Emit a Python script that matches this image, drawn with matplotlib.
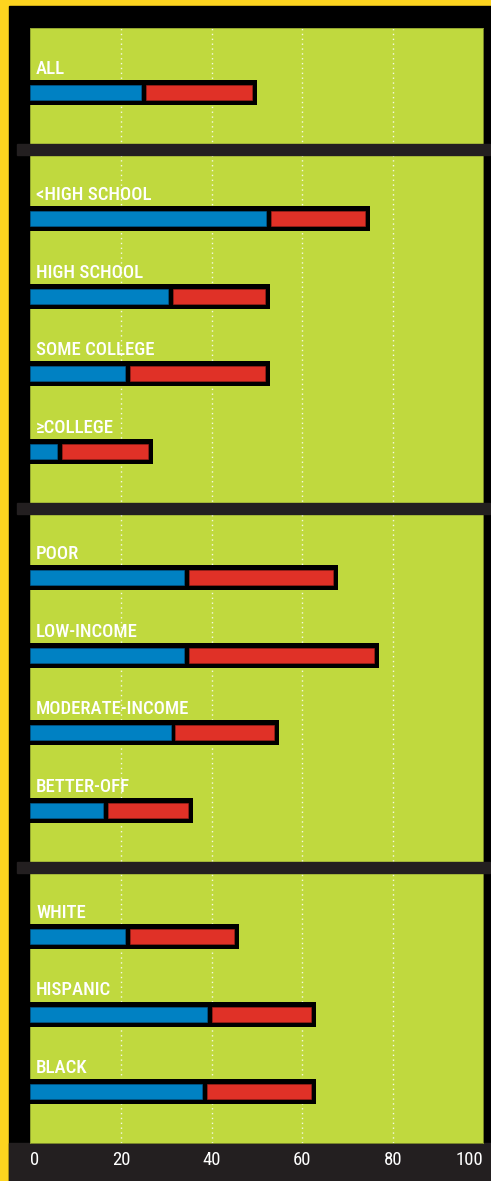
import matplotlib
matplotlib.use("Agg")
import matplotlib.pyplot as plt
import matplotlib.transforms as mtransforms
from matplotlib.patches import Rectangle

# data
categories = ["ALL",
              "<HIGH SCHOOL", "HIGH SCHOOL", "SOME COLLEGE", "\u2265COLLEGE",
              "POOR", "LOW-INCOME", "MODERATE-INCOME", "BETTER-OFF",
              "WHITE", "HISPANIC", "BLACK"]
groups = [0, 1, 1, 1, 1, 2, 2, 2, 2, 3, 3, 3]
blue_vals = [25, 52.5, 31, 21.5, 6.5, 34.5, 34.5, 31.5, 16.5, 21.5, 39.5, 38.5]
red_vals = [25, 22.5, 22, 31.5, 20.5, 33.5, 42.5, 23.5, 19.5, 24.5, 23.5, 24.5]
x_ticks = [0, 20, 40, 60, 80, 100]

YELLOW = "#fdd41f"
GREEN = "#c0d93e"
BLUE = "#0081c3"
RED = "#e03127"
DARK = "#231f20"
FONTS = ["Roboto Condensed", "Archivo Narrow", "PT Sans Narrow",
         "Barlow Condensed", "DejaVu Sans"]

W, H = 491, 1181
fig = plt.figure(figsize=(W / 100, H / 100), dpi=100, facecolor=YELLOW)

# black frame and dark bottom band
fig.patches.append(Rectangle((9 / W, 0), 1 - 9 / W, (H - 6) / H,
                             transform=fig.transFigure, color="black", zorder=-2))
fig.patches.append(Rectangle((9 / W, 0), 1 - 9 / W, 38 / H,
                             transform=fig.transFigure, color=DARK, zorder=-1))

ax = fig.add_axes([30.3 / W, 38 / H, 453 / W, (1143 - 28) / H])
ax.set_facecolor(GREEN)
for sp in ax.spines.values():
    sp.set_color("#8a9b2e")
    sp.set_linewidth(0.6)

gap = 0.632
pos = [i + g * gap for i, g in enumerate(groups)]

bar_h = 0.3226      # 25 px outline
fill_h = 0.194      # 15 px colour
div = 0.55          # half divider width in data units
end_pad = 1.1

for p, b, r, name in zip(pos, blue_vals, red_vals, categories):
    total = b + r
    ax.barh(p, total, height=bar_h, left=0, color="black", zorder=3)
    ax.barh(p, b - div, height=fill_h, left=0, color=BLUE,
            edgecolor="#00609a", linewidth=0.4, zorder=4)
    ax.barh(p, total - end_pad - (b + div), height=fill_h, left=b + div,
            color=RED, edgecolor="#a8221b", linewidth=0.4, zorder=4)
    ax.text(1.3, p - 0.24, name, color="white", fontsize=13.5,
            family=FONTS, fontweight="medium",
            va="baseline", ha="left", zorder=5)

# separators between groups
trans = mtransforms.blended_transform_factory(ax.transAxes, ax.transData)
for g in range(3):
    last = max(p for p, gg in zip(pos, groups) if gg == g)
    ax.add_patch(Rectangle((-13.3 / 453, last + 0.735 - 0.071), 1 + 20 / 453, 0.142,
                           transform=trans, color=DARK, clip_on=False, zorder=6))

ax.set_xlim(0, 100)
ax.set_ylim(pos[-1] + 0.665, -0.832)
ax.set_yticks([])
ax.set_xticks(x_ticks)
ax.set_xticklabels([str(t) for t in x_ticks], color="white", fontsize=13.5,
                   family=FONTS)
ax.tick_params(axis="x", length=0, pad=6)
labels = ax.get_xticklabels()
labels[0].set_ha("left")
labels[-1].set_ha("right")

ax.grid(axis="x", color="white", linestyle=(0, (1, 2.5)), linewidth=1, alpha=0.85, zorder=1)
ax.set_axisbelow(True)
grid = ax.xaxis.get_gridlines()
grid[0].set_visible(False)
grid[-1].set_visible(False)

fig.savefig("out.png", dpi=100, facecolor=YELLOW)
